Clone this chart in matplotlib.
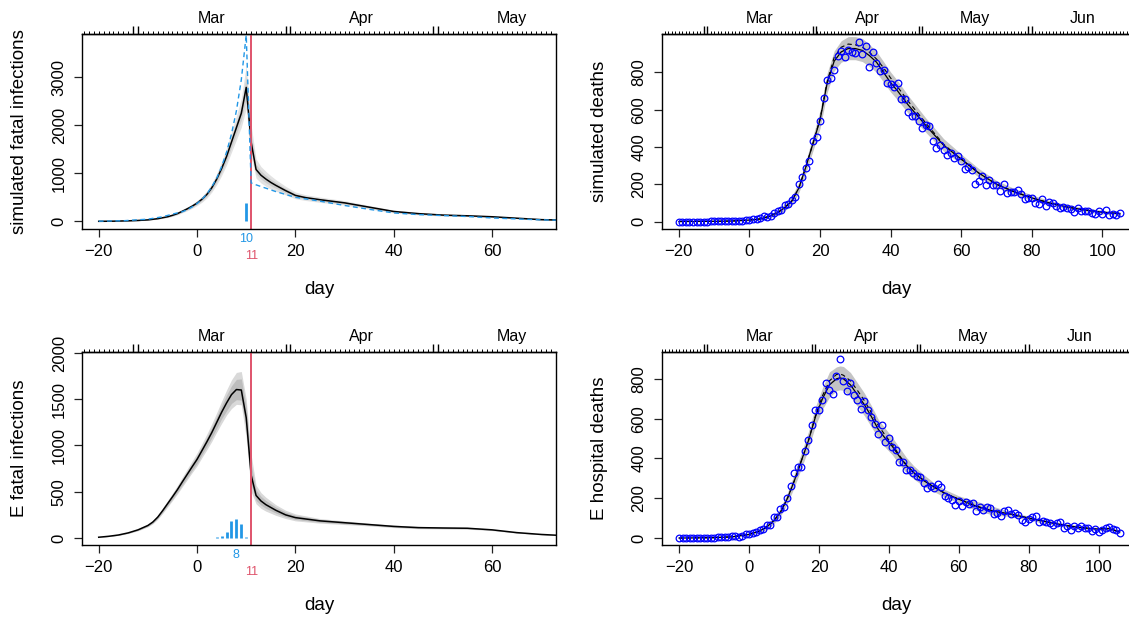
import numpy as np
import matplotlib
matplotlib.use('Agg')
import matplotlib.pyplot as plt
from matplotlib.ticker import FixedLocator

plt.rcParams['font.family'] = ['Liberation Sans', 'DejaVu Sans']

W, H, DPI = 1129, 617, 100
RED = '#DF536B'
BLUE = '#2297E6'

# calendar: day 0 = 13 March 2020
month_name = ['Mar', 'Apr', 'May', 'Jun']
month_start = [-12, 19, 49, 80]
month_len = [31, 30, 31, 30]

# ---- top left: simulated fatal infections ----
tl_days = [-20, -17, -14, -12, -10, -8, -6, -5, -4, -3, -2, -1, 0, 1, 2, 3, 4, 5, 6, 7,
           8, 9, 10, 11, 12, 13, 14, 15, 16, 18, 20, 22, 25, 30, 35, 40, 45, 50, 55, 60,
           65, 70, 73]
tl_mean = [0, 3, 10, 18, 30, 55, 95, 125, 160, 210, 260, 315, 380, 460, 560, 700, 880,
           1100, 1350, 1650, 1950, 2250, 2790, 1650, 1080, 960, 880, 810, 750, 640, 540,
           495, 450, 385, 295, 205, 160, 130, 115, 95, 65, 35, 28]
tl_outer_hi = [2, 5, 14, 24, 38, 66, 112, 146, 186, 242, 298, 360, 432, 522, 635, 790,
               995, 1245, 1525, 1860, 2200, 2560, 3250, 2000, 1300, 1140, 1040, 950, 870,
               730, 610, 555, 505, 430, 330, 235, 185, 150, 130, 110, 75, 45, 35]
tl_outer_lo = [0, 1, 6, 12, 22, 44, 78, 104, 134, 178, 222, 270, 328, 398, 485, 610, 765,
               955, 1175, 1440, 1700, 1960, 2350, 1350, 900, 800, 730, 670, 630, 550, 470,
               435, 395, 340, 260, 175, 135, 110, 100, 80, 55, 28, 22]
tl_inner_hi = [1, 4, 12, 21, 34, 60, 104, 136, 173, 226, 279, 338, 406, 491, 598, 745,
               938, 1172, 1437, 1755, 2075, 2405, 3020, 1825, 1190, 1050, 960, 880, 810,
               685, 575, 525, 478, 408, 312, 220, 172, 140, 122, 102, 70, 40, 31]
tl_inner_lo = [0, 2, 8, 15, 26, 50, 86, 114, 147, 194, 241, 292, 354, 429, 522, 655, 822,
               1027, 1262, 1545, 1825, 2105, 2570, 1500, 990, 880, 805, 740, 690, 595, 505,
               465, 422, 362, 278, 190, 147, 120, 107, 87, 60, 31, 25]
tl_true_days = [-20, -15, -10, -7, -5, -3, -2, -1, 0, 1, 2, 3, 4, 5, 6, 7, 8, 9, 10, 11,
                12, 14, 16, 18, 20, 25, 30, 35, 40, 45, 50, 55, 60, 65, 70, 73]
tl_true = [3, 12, 45, 95, 150, 200, 240, 300, 370, 460, 570, 720, 900, 1140, 1440, 1820,
           2300, 2950, 3880, 800, 760, 690, 620, 560, 500, 420, 330, 250, 175, 140, 120,
           100, 70, 50, 30, 25]
tl_bar_days = [9, 10]
tl_bar_vals = [15, 390]

# ---- bottom left: E fatal infections ----
bl_days = [-20, -18, -16, -14, -12, -10, -9, -8, -7, -6, -5, -4, -3, -2, -1, 0, 1, 2, 3,
           4, 5, 6, 7, 8, 9, 10, 11, 12, 13, 14, 16, 18, 20, 25, 30, 35, 40, 45, 50, 55,
           60, 65, 70, 73]
bl_mean = [8, 18, 32, 55, 88, 135, 172, 225, 295, 370, 445, 522, 606, 688, 770, 850, 945,
           1040, 1140, 1250, 1360, 1460, 1550, 1605, 1600, 1300, 680, 460, 400, 360, 300,
           250, 220, 185, 165, 145, 125, 112, 108, 105, 88, 58, 38, 30]
bl_outer_hi = [10, 21, 37, 62, 98, 150, 190, 248, 324, 405, 485, 568, 658, 746, 833, 920,
               1020, 1125, 1235, 1355, 1480, 1600, 1710, 1790, 1800, 1500, 900, 570, 490,
               440, 360, 300, 260, 210, 185, 160, 140, 125, 118, 115, 95, 65, 42, 34]
bl_outer_lo = [6, 15, 27, 48, 78, 120, 154, 202, 266, 335, 405, 476, 554, 630, 707, 780,
               870, 955, 1045, 1145, 1240, 1330, 1400, 1445, 1440, 1080, 500, 370, 320, 290,
               245, 210, 185, 160, 145, 130, 112, 100, 97, 95, 80, 52, 34, 26]
bl_inner_hi = [9, 20, 35, 58, 94, 144, 183, 239, 312, 392, 469, 550, 638, 724, 809, 892,
               988, 1090, 1197, 1313, 1430, 1545, 1645, 1715, 1720, 1420, 800, 520, 450,
               405, 335, 280, 245, 200, 177, 153, 133, 119, 113, 110, 92, 62, 40, 32]
bl_inner_lo = [7, 16, 29, 52, 82, 126, 161, 211, 278, 348, 421, 494, 574, 652, 731, 808,
               902, 990, 1083, 1187, 1290, 1375, 1455, 1495, 1490, 1180, 580, 405, 355, 320,
               270, 228, 200, 170, 153, 137, 118, 105, 102, 100, 84, 55, 36, 28]
bl_bar_days = [4, 5, 6, 7, 8, 9, 10]
bl_bar_vals = [15, 20, 60, 180, 205, 150, 15]

# ---- top right: simulated deaths ----
tr_days = [-20, -10, -5, 0, 3, 6, 8, 10, 12, 14, 16, 18, 20, 22, 24, 26, 28, 30, 32, 34,
           36, 38, 40, 42, 45, 50, 55, 60, 65, 70, 75, 80, 85, 90, 95, 100, 105]
tr_mean = [0, 1, 3, 8, 14, 30, 48, 75, 110, 180, 294, 419, 545, 740, 860, 910, 928, 928,
           918, 890, 855, 800, 745, 700, 625, 515, 410, 335, 260, 200, 160, 127, 100, 78,
           62, 50, 42]
tr_dash = [0, 1, 3, 8, 14, 30, 48, 75, 110, 180, 294, 419, 550, 750, 880, 935, 952, 948,
           935, 908, 872, 825, 770, 722, 645, 528, 415, 335, 260, 200, 160, 127, 100, 78,
           62, 50, 42]
tr_hi = [2, 3, 6, 14, 22, 40, 62, 95, 135, 210, 325, 460, 595, 795, 915, 970, 992, 992,
         982, 950, 912, 858, 802, 755, 675, 555, 445, 362, 284, 220, 178, 143, 113, 90,
         73, 61, 52]
tr_lo = [0, 0, 1, 4, 8, 22, 36, 58, 90, 155, 262, 380, 500, 690, 808, 855, 868, 868, 858,
         832, 800, 748, 695, 652, 580, 478, 378, 310, 238, 182, 144, 112, 87, 67, 52, 40, 33]
tr_obs = [0, 0, 0, 0, 0, 0, 0, 0, 0, 1,
          1, 1, 2, 2, 3, 3, 4, 5, 5, 6,
          10, 12, 15, 20, 30, 22, 28, 45, 55, 60,
          90, 95, 115, 130, 200, 240, 285, 325, 430, 455,
          540, 665, 760, 770, 815, 890, 915, 880, 920, 910,
          905, 965, 900, 940, 830, 910, 850, 810, 815, 745,
          740, 720, 745, 660, 660, 590, 565, 565, 540, 500,
          520, 515, 430, 395, 410, 385, 355, 370, 340, 350,
          325, 280, 295, 275, 200, 215, 245, 195, 225, 195,
          195, 165, 200, 155, 160, 160, 170, 150, 120, 125,
          125, 100, 95, 120, 85, 105, 100, 85, 70, 80,
          75, 65, 50, 70, 55, 55, 55, 45, 40, 55,
          40, 60, 35, 40, 35, 48]

# ---- bottom right: E hospital deaths ----
br_days = [-20, -10, -5, 0, 3, 5, 7, 9, 11, 13, 15, 17, 19, 21, 23, 25, 26, 27, 29, 31,
           33, 35, 37, 39, 41, 43, 45, 47, 50, 53, 56, 60, 65, 70, 75, 80, 85, 90, 95,
           100, 103, 106]
br_mean = [0, 2, 6, 18, 35, 55, 85, 130, 200, 290, 390, 490, 610, 700, 770, 800, 805, 800,
           770, 720, 670, 610, 545, 500, 460, 410, 365, 330, 288, 255, 225, 195, 160, 135,
           120, 100, 82, 65, 52, 45, 48, 30]
br_dash = [0, 2, 6, 18, 35, 55, 85, 130, 200, 290, 390, 490, 615, 715, 790, 822, 825, 818,
           790, 742, 690, 630, 565, 515, 470, 415, 368, 332, 290, 256, 225, 195, 160, 135,
           120, 100, 82, 65, 52, 45, 48, 30]
br_hi = [2, 4, 10, 26, 46, 68, 102, 152, 228, 325, 430, 535, 660, 755, 835, 860, 865, 862,
         832, 780, 728, 665, 595, 550, 505, 455, 405, 365, 318, 276, 244, 212, 185, 158,
         130, 110, 92, 74, 60, 53, 56, 38]
br_lo = [0, 0, 3, 12, 26, 44, 70, 110, 175, 258, 352, 448, 565, 648, 708, 740, 745, 742,
         710, 662, 615, 558, 500, 455, 418, 368, 328, 298, 260, 232, 205, 176, 138, 115,
         108, 90, 72, 56, 44, 37, 40, 23]
br_obs = [0, 0, 0, 0, 0, 0, 0, 0, 1, 2,
          2, 3, 3, 3, 5, 8, 8, 5, 12, 18,
          22, 25, 30, 40, 45, 65, 65, 108, 105, 147,
          158, 203, 263, 325, 355, 358, 435, 495, 570, 645,
          645, 695, 778, 742, 725, 812, 898, 788, 738, 778,
          717, 695, 648, 687, 642, 608, 572, 522, 567, 483,
          503, 458, 442, 383, 380, 342, 342, 325, 313, 308,
          275, 250, 263, 250, 272, 255, 213, 203, 192, 165,
          185, 163, 182, 170, 175, 135, 158, 142, 155, 150,
          122, 128, 113, 137, 142, 122, 125, 117, 92, 82,
          95, 108, 113, 83, 88, 82, 78, 67, 75, 80,
          48, 58, 42, 62, 50, 58, 48, 50, 33, 45,
          32, 42, 48, 57, 45, 38, 25]


def px_axes(fig, left, top, width, height):
    return fig.add_axes([left / W, 1 - (top + height) / H, width / W, height / H])


def style_axes(ax, xticks, yticks, ylabel):
    w = ax.get_position().width * W
    h = ax.get_position().height * H
    ax.set_xticks(xticks)
    ax.set_yticks(yticks)
    ax.tick_params(length=6, width=0.9, pad=5, labelsize=12, color='#222222')
    for lab in ax.get_yticklabels():
        lab.set_rotation(90)
        lab.set_va('center')
    for sp in ax.spines.values():
        sp.set_linewidth(1.0)
    ax.set_xlabel('day', fontsize=13.5)
    ax.xaxis.label.set_va('center')
    ax.xaxis.set_label_coords(0.5, -61 / h)
    ax.set_ylabel(ylabel, fontsize=13.5)
    ax.yaxis.label.set_va('center')
    ax.yaxis.set_label_coords(-62 / w, 0.5)


def add_date_axis(ax):
    lo, hi = ax.get_xlim()
    top = ax.secondary_xaxis('top')
    edges = [s - 0.5 for s in month_start]
    double = [e + d for e in edges for d in (-0.45, 0.45) if lo < e < hi]
    top.set_xticks(double)
    top.set_xticklabels([])
    top.xaxis.set_minor_locator(FixedLocator(np.arange(np.ceil(lo), hi)))
    top.tick_params(which='major', length=6, width=1.0)
    top.tick_params(which='minor', length=2.2, width=0.7)
    top.spines['top'].set_linewidth(1.0)
    for name, s, n in zip(month_name, month_start, month_len):
        mid = s - 0.5 + n / 2
        if lo < mid < hi:
            ax.annotate(name, (mid, 1), xycoords=('data', 'axes fraction'),
                        xytext=(0, 11.5), textcoords='offset points',
                        ha='center', va='center', fontsize=11.5)


def infection_panel(ax, days, mean, olo, ohi, ilo, ihi, bar_days, bar_vals,
                    mode_day, ylim, yticks, ylabel, band_cols):
    ax.set_xlim(-23.4, 73.0)
    ax.set_ylim(*ylim)
    ax.fill_between(days, olo, ohi, color=band_cols[0], lw=0)
    ax.fill_between(days, ilo, ihi, color=band_cols[1], lw=0)
    ax.plot(days, mean, color='black', lw=1.1)
    ax.vlines(bar_days, 0, bar_vals, color=BLUE, lw=2.0)
    ax.axvline(11, color=RED, lw=1.4)
    ax.annotate(str(mode_day), (mode_day, 0), xycoords=('data', 'axes fraction'),
                xytext=(0, -7.5), textcoords='offset points', ha='center',
                va='center', color=BLUE, fontsize=9)
    ax.annotate('11', (11, 0), xycoords=('data', 'axes fraction'),
                xytext=(0, -19.5), textcoords='offset points', ha='center',
                va='center', color=RED, fontsize=9)
    style_axes(ax, [-20, 0, 20, 40, 60], yticks, ylabel)
    add_date_axis(ax)


def death_panel(ax, days, mean, dash, lo, hi, obs, xlim, ylim, ylabel):
    ax.set_xlim(*xlim)
    ax.set_ylim(*ylim)
    ax.fill_between(days, lo, hi, color='#c4c4c4', lw=0)
    ax.plot(days, dash, color='black', lw=0.8, ls=(0, (4, 3)))
    ax.plot(days, mean, color='black', lw=0.9)
    obs_days = np.arange(-20, -20 + len(obs))
    ax.plot(obs_days, obs, 'o', mfc='none', mec='blue', ms=4.8, mew=0.9)
    style_axes(ax, [-20, 0, 20, 40, 60, 80, 100], [0, 200, 400, 600, 800], ylabel)
    add_date_axis(ax)


fig = plt.figure(figsize=(W / DPI, H / DPI), dpi=DPI)

ax_tl = px_axes(fig, 82, 34, 474, 195)
infection_panel(ax_tl, tl_days, tl_mean, tl_outer_lo, tl_outer_hi, tl_inner_lo,
                tl_inner_hi, tl_bar_days, tl_bar_vals, 10, (-160, 3902),
                [0, 1000, 2000, 3000], 'simulated fatal infections',
                ('#e2e2e2', '#cdcdcd'))
ax_tl.plot(tl_true_days, tl_true, color=BLUE, lw=1.0, ls=(0, (3.5, 2.5)))

ax_bl = px_axes(fig, 82, 352, 474, 193)
infection_panel(ax_bl, bl_days, bl_mean, bl_outer_lo, bl_outer_hi, bl_inner_lo,
                bl_inner_hi, bl_bar_days, bl_bar_vals, 8, (-76, 2011),
                [0, 500, 1000, 1500, 2000], 'E fatal infections',
                ('#d9d9d9', '#bdbdbd'))

ax_tr = px_axes(fig, 661.6, 34, 470, 195)
death_panel(ax_tr, tr_days, tr_mean, tr_dash, tr_lo, tr_hi, tr_obs,
            (-24.9, 108.3), (-40, 1006), 'simulated deaths')

ax_br = px_axes(fig, 661.6, 352, 470, 193)
death_panel(ax_br, br_days, br_mean, br_dash, br_lo, br_hi, br_obs,
            (-25.0, 109.4), (-35, 935), 'E hospital deaths')

fig.savefig('out.png', dpi=DPI)
